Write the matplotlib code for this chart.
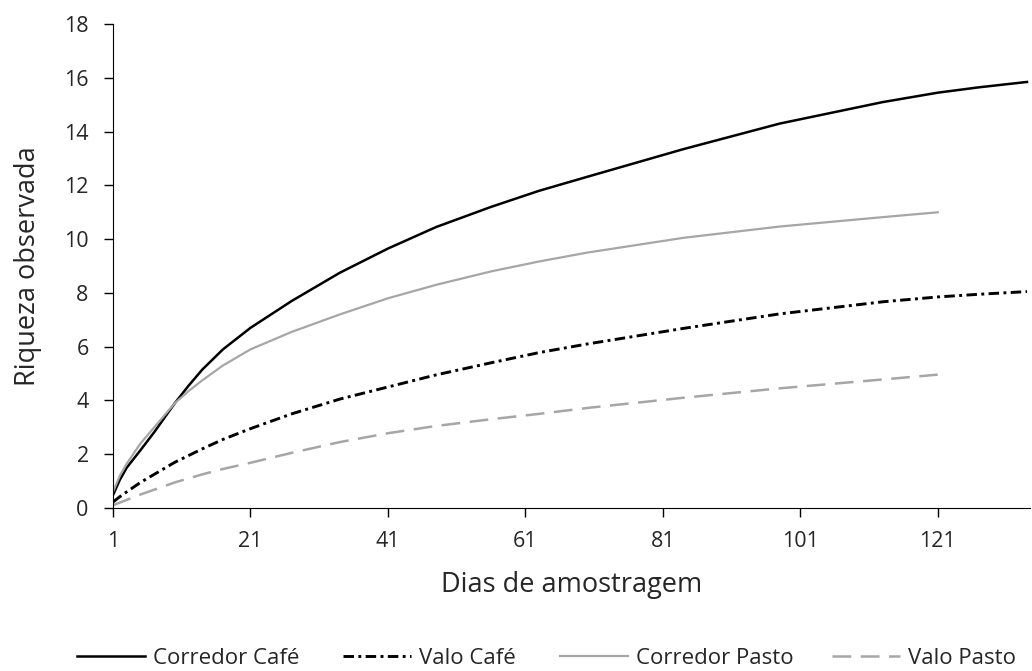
#!/usr/bin/env python3
"""riqueza_observada.py - curvas de acumulacao de especies"""

import matplotlib
matplotlib.use("Agg")
import matplotlib.pyplot as plt

# dias de amostragem
dias = [1, 2, 3, 5, 7, 10, 12, 14, 17, 21, 27, 34, 41, 48, 56, 63, 70, 84,
        98, 113, 121, 127, 134]
dias_pasto = dias[:21]  # as curvas de pasto acabam no dia 121

corredor_cafe = [0.48, 1.05, 1.5, 2.15, 2.82, 3.9, 4.55, 5.15, 5.9, 6.7,
                 7.7, 8.75, 9.65, 10.45, 11.2, 11.8, 12.32, 13.35, 14.3,
                 15.1, 15.45, 15.65, 15.85]
valo_cafe = [0.22, 0.42, 0.6, 0.95, 1.25, 1.7, 1.95, 2.2, 2.55, 2.95, 3.5,
             4.05, 4.5, 4.95, 5.4, 5.78, 6.1, 6.68, 7.22, 7.67, 7.85, 7.95,
             8.05]
corredor_pasto = [0.6, 1.2, 1.65, 2.4, 3.0, 3.9, 4.35, 4.75, 5.3, 5.9, 6.55,
                  7.2, 7.8, 8.3, 8.8, 9.17, 9.5, 10.05, 10.47, 10.82, 11.0]
valo_pasto = [0.1, 0.2, 0.3, 0.5, 0.68, 0.95, 1.1, 1.25, 1.45, 1.68, 2.05,
              2.45, 2.78, 3.05, 3.3, 3.5, 3.72, 4.1, 4.45, 4.78, 4.96]

x_ticks = [1, 21, 41, 61, 81, 101, 121]
y_ticks = list(range(0, 19, 2))

TXT = "#262626"
CINZA = "#a6a6a6"

plt.rcParams["font.family"] = ["Open Sans", "DejaVu Sans"]

fig = plt.figure(figsize=(10.32, 6.71), dpi=100)
ax = fig.add_axes([0.1095, 0.243, 0.889, 0.721])

l1, = ax.plot(dias, corredor_cafe, color="black", lw=1.8)
l2, = ax.plot(dias, valo_cafe, color="black", lw=2.1,
              dashes=(3.6, 1.5, 1, 1.5))
l3, = ax.plot(dias_pasto, corredor_pasto, color=CINZA, lw=1.6)
l4, = ax.plot(dias_pasto, valo_pasto, color=CINZA, lw=1.8,
              dashes=(7.5, 3.8))

ax.set_xlim(1, 134.5)
ax.set_ylim(0, 18)
ax.set_xticks(x_ticks)
ax.set_yticks(y_ticks)
ax.spines["top"].set_visible(False)
ax.spines["right"].set_visible(False)
ax.tick_params(direction="out", length=6.5, width=1, labelsize=15.5,
               labelcolor=TXT)
ax.tick_params(axis="y", pad=11)
ax.tick_params(axis="x", pad=10)
ax.set_xlabel("Dias de amostragem", fontsize=19.5, labelpad=14, color=TXT)
ax.set_ylabel("Riqueza observada", fontsize=19.5, labelpad=16, color=TXT)

# uma legenda por serie, na linha de baixo
entradas = [(l1, "Corredor Café", 77), (l2, "Valo Café", 343),
            (l3, "Corredor Pasto", 560), (l4, "Valo Pasto", 832)]
for linha, texto, xpix in entradas:
    fig.legend([linha], [texto], loc="center left",
               bbox_to_anchor=(xpix / 1032, 13 / 671), frameon=False,
               fontsize=16, handlelength=3.05, handletextpad=0.36,
               borderpad=0, borderaxespad=0, labelcolor=TXT)

fig.savefig("out.png", dpi=100)
